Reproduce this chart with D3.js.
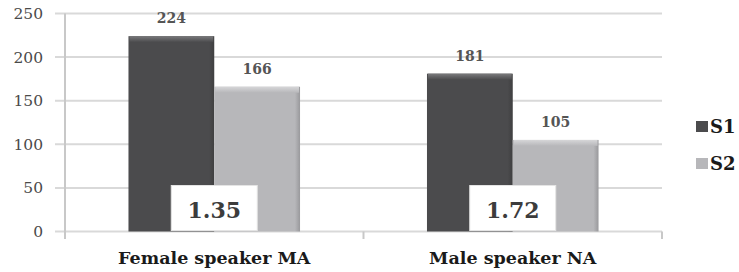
<!DOCTYPE html>
<html>
<head>
<meta charset="utf-8">
<script src="https://cdn.jsdelivr.net/npm/d3@7"></script>
<style>
html,body{margin:0;padding:0;background:#fff;}
svg{display:block;}
</style>
</head>
<body>
<svg id="chart" width="739" height="272"></svg>
<script>
const categories = ["Female speaker MA", "Male speaker NA"];
const seriesNames = ["S1", "S2"];
const s1Values = [224, 181];
const s2Values = [166, 105];
const ratioLabels = ["1.35", "1.72"];
const yTicks = [0, 50, 100, 150, 200, 250];

const colors = {S1: "#4b4b4d", S2: "#b7b7ba"};
const topColors = {S1: "#7a7a7c", S2: "#d6d6d8"};

const svg = d3.select("#chart");
const serif = "'DejaVu Serif', 'Liberation Serif', serif";

const x0 = d3.scaleBand().domain(categories).range([65, 662]).paddingInner(0).paddingOuter(0);
const x1 = d3.scaleBand().domain(seriesNames).range([0, x0.bandwidth()]).paddingInner(0).paddingOuter(0.74);
const y = d3.scaleLinear().domain([0, 250]).range([231.5, 13.5]);

const data = categories.map((c, i) => ({cat: c, S1: s1Values[i], S2: s2Values[i], ratio: ratioLabels[i]}));

// gradients
const defs = svg.append("defs");
seriesNames.forEach(s => {
  const g = defs.append("linearGradient").attr("id", "grad" + s).attr("x1", 0).attr("x2", 0).attr("y1", 0).attr("y2", 1);
  g.append("stop").attr("offset", "0%").attr("stop-color", topColors[s]);
  g.append("stop").attr("offset", "100%").attr("stop-color", colors[s]);
  const h = defs.append("linearGradient").attr("id", "hgrad" + s).attr("x1", 0).attr("x2", 1).attr("y1", 0).attr("y2", 0);
  h.append("stop").attr("offset", "0%").attr("stop-color", colors[s]);
  h.append("stop").attr("offset", "6%").attr("stop-color", colors[s]);
  h.append("stop").attr("offset", "94%").attr("stop-color", colors[s]);
  h.append("stop").attr("offset", "100%").attr("stop-color", d3.color(colors[s]).darker(0.5));
});

// gridlines
svg.append("g").selectAll("line").data(yTicks).join("line")
  .attr("x1", 55).attr("x2", 662)
  .attr("y1", d => y(d)).attr("y2", d => y(d))
  .attr("stroke", "#d9d9d9").attr("stroke-width", 2);

// y axis (labels only, via axis)
const yAxis = svg.append("g").attr("transform", "translate(65,0)")
  .call(d3.axisLeft(y).tickValues(yTicks).tickSize(0).tickPadding(22).tickFormat(d3.format("d")));
yAxis.select(".domain").remove();
yAxis.selectAll("text").attr("font-family", serif).attr("font-size", 15.5).attr("fill", "#4a4a4a");

// vertical axis line
svg.append("line").attr("x1", 65).attr("x2", 65).attr("y1", y(250)).attr("y2", 239)
  .attr("stroke", "#c8c8c8").attr("stroke-width", 2);

// bottom tick marks at category boundaries
const boundaries = [x0(categories[0]), x0(categories[1]), x0(categories[1]) + x0.bandwidth()];
svg.append("g").selectAll("line").data(boundaries).join("line")
  .attr("x1", d => d).attr("x2", d => d).attr("y1", y(0)).attr("y2", 239)
  .attr("stroke", "#c8c8c8").attr("stroke-width", 2);

// bars
const groups = svg.append("g").selectAll("g").data(data).join("g")
  .attr("transform", d => `translate(${x0(d.cat)},0)`);

seriesNames.forEach(s => {
  groups.append("rect")
    .attr("x", x1(s)).attr("width", x1.bandwidth())
    .attr("y", d => y(d[s])).attr("height", d => y(0) - y(d[s]))
    .attr("fill", `url(#hgrad${s})`);
  groups.append("rect")
    .attr("x", x1(s) + 1).attr("width", x1.bandwidth() - 2)
    .attr("y", d => y(d[s])).attr("height", 6)
    .attr("fill", `url(#grad${s})`);
  groups.append("text")
    .attr("x", x1(s) + x1.bandwidth() / 2)
    .attr("y", d => y(d[s]) - 13)
    .attr("text-anchor", "middle")
    .attr("font-family", serif).attr("font-size", 14).attr("font-weight", "bold")
    .attr("fill", "#555")
    .text(d => d[s]);
});

// ratio boxes
groups.append("rect")
  .attr("x", x0.bandwidth() / 2 - 43).attr("width", 86)
  .attr("y", y(0) - 46).attr("height", 45)
  .attr("fill", "#fff").attr("stroke", "#e4e4e4").attr("stroke-width", 1);
groups.append("text")
  .attr("x", x0.bandwidth() / 2).attr("y", y(0) - 14)
  .attr("text-anchor", "middle")
  .attr("font-family", serif).attr("font-size", 22).attr("font-weight", "bold")
  .attr("fill", "#3c3c3c")
  .text(d => d.ratio);

// category labels
groups.append("text")
  .attr("x", x0.bandwidth() / 2).attr("y", 264)
  .attr("text-anchor", "middle")
  .attr("font-family", serif).attr("font-size", 17.5).attr("font-weight", "bold")
  .attr("fill", "#1a1a1a")
  .text(d => d.cat);

// legend
const legend = svg.append("g").selectAll("g").data(seriesNames).join("g")
  .attr("transform", (d, i) => `translate(696,${126 + i * 37})`);
legend.append("rect").attr("x", 0).attr("y", -5).attr("width", 12).attr("height", 11)
  .attr("fill", d => colors[d]);
legend.append("text").attr("x", 14).attr("y", 7)
  .attr("font-family", serif).attr("font-size", 18).attr("font-weight", "bold")
  .attr("fill", "#1a1a1a")
  .text(d => d);
</script>
</body>
</html>
